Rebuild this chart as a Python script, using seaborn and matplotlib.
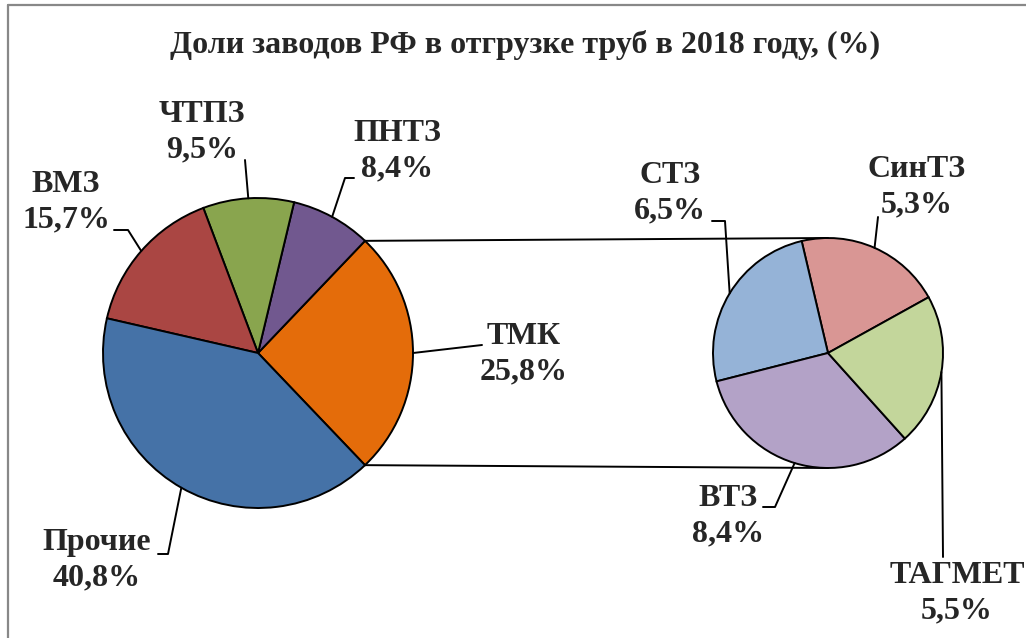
import numpy as np
import seaborn as sns
import matplotlib.pyplot as plt

# data
main_labels = ['ТМК', 'ПНТЗ', 'ЧТПЗ', 'ВМЗ', 'Прочие']
main_values = [25.8, 8.4, 9.5, 15.7, 40.8]
sub_labels = ['СинТЗ', 'СТЗ', 'ВТЗ', 'ТАГМЕТ']
sub_values = [5.3, 6.5, 8.4, 5.5]
title = 'Доли заводов РФ в отгрузке труб в 2018 году, (%)'

main_colors = ['#E46C0A', '#71588F', '#89A54E', '#AA4643', '#4572A7']
sub_colors = ['#D99694', '#95B3D7', '#B3A2C7', '#C3D69B']

# layout (pixels, y downwards)
W, H = 1026, 638
c1, r1 = (258, 353), 155
c2, r2 = (828, 353), 115
label_pos = {
    'ТМК': ((524, 354), [(482, 345)]),
    'ПНТЗ': ((397, 151), [(345, 178), (354, 178)]),
    'ЧТПЗ': ((202, 132), [(245, 160)]),
    'ВМЗ': ((66, 202), [(128, 230), (114, 230)]),
    'Прочие': ((97, 560), [(168, 554), (158, 554)]),
    'СинТЗ': ((917, 187), [(878, 217)]),
    'СТЗ': ((670, 193), [(725, 221), (712, 221)]),
    'ВТЗ': ((728, 516), [(775, 507), (763, 507)]),
    'ТАГМЕТ': ((957, 593), [(943, 557)]),
}

sns.set_style('white')
plt.rcParams['font.family'] = ['Liberation Serif', 'DejaVu Serif']

fig = plt.figure(figsize=(W / 100, H / 100), dpi=100)
ax = fig.add_axes([0, 0, 1, 1])

wp = dict(edgecolor='black', linewidth=1.4)
# y axis is inverted, so clockwise in data = counter-clockwise on screen
w1, _ = ax.pie(main_values, colors=sns.color_palette(main_colors), center=c1, radius=r1,
               startangle=main_values[0] / sum(main_values) * 180, counterclock=False,
               wedgeprops=wp, frame=True)
w2, _ = ax.pie(sub_values, colors=sns.color_palette(sub_colors), center=c2, radius=r2,
               startangle=-29, counterclock=False, wedgeprops=wp, frame=True)

ax.set_xlim(0, W)
ax.set_ylim(H, 0)
ax.set_aspect('equal')
ax.axis('off')

# connector lines from the ТМК slice to the second pie
t = np.radians([w1[0].theta1, w1[0].theta2])
ys = c1[1] + r1 * np.sin(t)
xs = c1[0] + r1 * np.cos(t)
top, bot = np.argmin(ys), np.argmax(ys)
ax.plot([xs[top], c2[0]], [ys[top], c2[1] - r2], color='black', lw=1.4)
ax.plot([xs[bot], c2[0]], [ys[bot], c2[1] + r2], color='black', lw=1.4)

# labels with leader lines
def add_labels(wedges, names, values, center, radius):
    for w, name, val in zip(wedges, names, values):
        mid = np.radians((w.theta1 + w.theta2) / 2)
        px = center[0] + radius * np.cos(mid)
        py = center[1] + radius * np.sin(mid)
        (tx, ty), pts = label_pos[name]
        lx = [px] + [p[0] for p in pts]
        ly = [py] + [p[1] for p in pts]
        ax.plot(lx, ly, color='black', lw=1.4)
        txt = f'{name}\n{val:.1f}%'.replace('.', ',')
        ax.text(tx, ty, txt, ha='center', va='center', fontsize=23,
                fontweight='bold', linespacing=1.3)

add_labels(w1, main_labels, main_values, c1, r1)
add_labels(w2, sub_labels, sub_values, c2, r2)

ax.text(525, 45, title, ha='center', va='center', fontsize=23, fontweight='bold')

# chart border (left and top only visible)
ax.plot([8, 8], [H, 5], color='#888888', lw=1.6, clip_on=False)
ax.plot([8, W], [5, 5], color='#888888', lw=1.6, clip_on=False)

fig.savefig('out.png', dpi=100)
